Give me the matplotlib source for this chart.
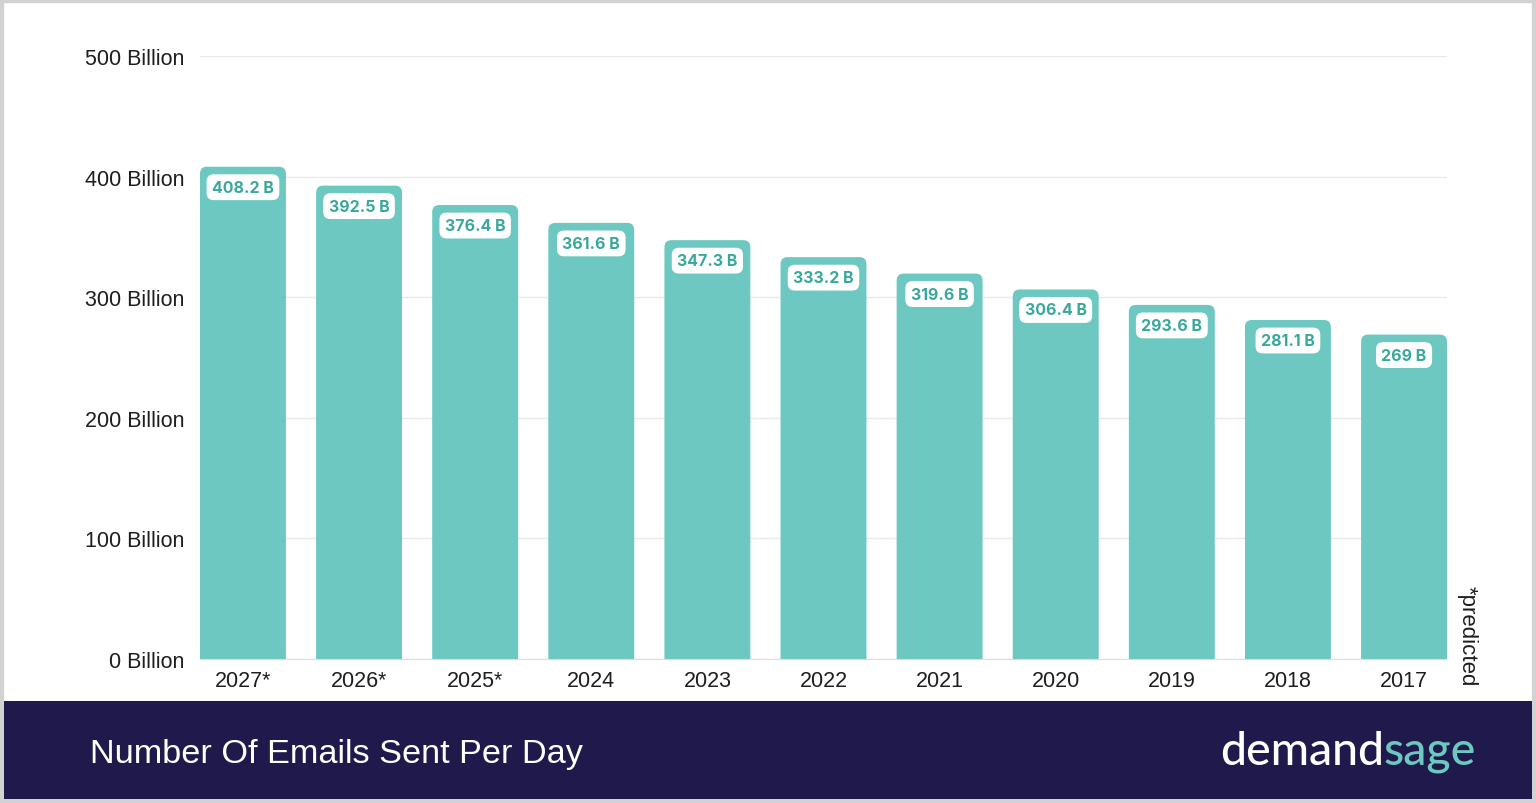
import matplotlib
matplotlib.use('Agg')
import matplotlib.pyplot as plt
from matplotlib.patches import FancyBboxPatch, Rectangle

# Chart data
years = ['2027*', '2026*', '2025*', '2024', '2023', '2022', '2021', '2020', '2019', '2018', '2017']
emails = [408.2, 392.5, 376.4, 361.6, 347.3, 333.2, 319.6, 306.4, 293.6, 281.1, 269]
labels = ['408.2 B', '392.5 B', '376.4 B', '361.6 B', '347.3 B', '333.2 B',
          '319.6 B', '306.4 B', '293.6 B', '281.1 B', '269 B']
yticks = [0, 100, 200, 300, 400, 500]
ytick_labels = ['0 Billion', '100 Billion', '200 Billion', '300 Billion', '400 Billion', '500 Billion']

bar_color = '#6cc8c0'
label_color = '#3aa89c'
banner_color = '#1f1a4b'

plt.rcParams['font.family'] = ['Liberation Sans', 'DejaVu Sans']

fig = plt.figure(figsize=(15.36, 8.04), dpi=100)
fig.patch.set_facecolor('white')

# outer light grey frame
fig.patches.append(Rectangle((0, 0), 1, 1, transform=fig.transFigure, fill=False,
                             edgecolor='#d2d2d2', linewidth=6, zorder=0))
# bottom banner
fig.patches.append(Rectangle((4 / 1536, 4 / 804), 1528 / 1536, 98 / 804, transform=fig.transFigure,
                             facecolor=banner_color, edgecolor='none', zorder=1))

ax = fig.add_axes([200 / 1536, 144 / 804, 1247 / 1536, 603 / 804])
x = list(range(len(years)))
bars = ax.bar(x, emails, width=0.74, color=bar_color, zorder=2)

# swap plain bars for bars with rounded tops (bottom corners hidden below the axis)
ax.set_xlim(-0.37, len(years) - 1 + 0.37)
ax.set_ylim(0, 500)
x_per_px = (ax.get_xlim()[1] - ax.get_xlim()[0]) / 1247
y_per_px = 500 / 603
for b in bars:
    b.set_visible(False)
    bx, bw, bh = b.get_x(), b.get_width(), b.get_height()
    ax.add_patch(FancyBboxPatch((bx, -40), bw, bh + 40,
                                boxstyle='round,pad=0,rounding_size=%f' % (7 * x_per_px),
                                mutation_aspect=y_per_px / x_per_px,
                                facecolor=bar_color, edgecolor='none', zorder=2))

for xi, v, lab in zip(x, emails, labels):
    ax.text(xi, v - 20.5 * y_per_px, lab, ha='center', va='center', fontsize=11.5,
            fontweight='bold', color=label_color, family=['Inter', 'DejaVu Sans'], zorder=4,
            bbox=dict(boxstyle='round,pad=0.34,rounding_size=0.45', facecolor='white', edgecolor='none'))

ax.set_yticks(yticks)
ax.set_yticklabels(ytick_labels)
ax.set_xticks(x)
ax.set_xticklabels(years)
ax.tick_params(axis='both', length=0, labelsize=15.5, colors='#1e1e1e')
ax.tick_params(axis='y', pad=11.5)
ax.tick_params(axis='x', pad=8)
ax.grid(axis='y', color='#e9e9e9', linewidth=1, zorder=0)
ax.set_axisbelow(True)
for side in ['top', 'right', 'left']:
    ax.spines[side].set_visible(False)
ax.spines['bottom'].set_color('#dddddd')

fig.text(1467 / 1536, 1 - 636 / 804, '*predicted', rotation=-90, ha='center', va='center',
         fontsize=16, color='#1e1e1e')

# banner title and logo
fig.text(90 / 1536, 1 - 755 / 804, 'Number Of Emails Sent Per Day', ha='left', va='center',
         fontsize=24.7, color='white')
fig.canvas.draw()
renderer = fig.canvas.get_renderer()
t1 = fig.text(1220 / 1536, 1 - 752 / 804, 'demand', ha='left', va='center', fontsize=33.5,
              color='white', family=['Lato', 'DejaVu Sans'], fontweight='medium')
ext = t1.get_window_extent(renderer)
fig.text(ext.x1 / 1536, 1 - 752 / 804, 'sage', ha='left', va='center', fontsize=33.5,
         color=bar_color, family=['Lato', 'DejaVu Sans'], fontweight='medium')

fig.savefig('out.png', dpi=100, facecolor='white')
